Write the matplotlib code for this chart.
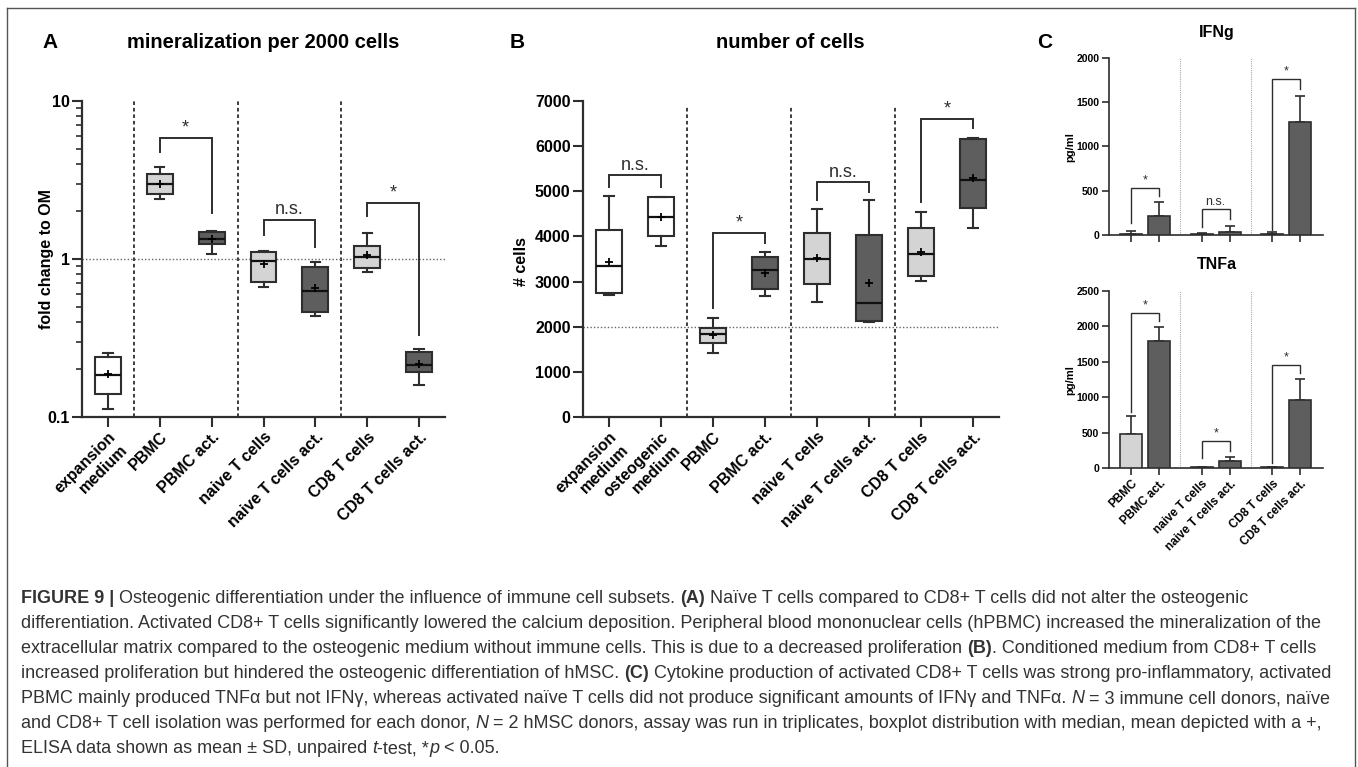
import matplotlib.pyplot as plt
import numpy as np
from matplotlib.ticker import LogLocator, NullFormatter
from matplotlib.lines import Line2D

W, H = 1358, 767

plt.rcParams['font.family'] = ['Liberation Sans', 'DejaVu Sans']
plt.rcParams['font.weight'] = 'bold'
plt.rcParams['axes.edgecolor'] = '#2e2e2e'

WHITE, LIGHT, DARK = 'white', '#d4d4d4', '#5e5e5e'
INK = '#2e2e2e'

# ---- A: mineralization per 2000 cells (fold change to OM)
a_labels = ['expansion\nmedium', 'PBMC', 'PBMC act.', 'naive T cells',
            'naive T cells act.', 'CD8 T cells', 'CD8 T cells act.']
a_whislo = [0.112, 2.40, 1.08, 0.665, 0.436, 0.83, 0.16]
a_q1 = [0.14, 2.58, 1.24, 0.72, 0.46, 0.88, 0.193]
a_med = [0.184, 2.98, 1.34, 0.97, 0.63, 1.03, 0.213]
a_q3 = [0.24, 3.45, 1.48, 1.11, 0.89, 1.21, 0.258]
a_whishi = [0.254, 3.82, 1.50, 1.12, 0.96, 1.46, 0.27]
a_mean = [0.187, 3.0, 1.33, 0.93, 0.66, 1.06, 0.216]
a_fill = [WHITE, LIGHT, DARK, LIGHT, DARK, LIGHT, DARK]
# (left, right, bar height, left leg end, right leg end, label)
a_brackets = [(1, 2, 5.83, 4.75, 1.95, '*'),
              (3, 4, 1.77, 1.42, 1.19, 'n.s.'),
              (5, 6, 2.26, 1.87, 0.33, '*')]

# ---- B: number of cells
b_labels = ['expansion\nmedium', 'osteogenic\nmedium', 'PBMC', 'PBMC act.',
            'naive T cells', 'naive T cells act.', 'CD8 T cells', 'CD8 T cells act.']
b_whislo = [2700, 3780, 1420, 2680, 2550, 2100, 3010, 4190]
b_q1 = [2740, 4010, 1640, 2830, 2950, 2130, 3120, 4630]
b_med = [3350, 4430, 1840, 3250, 3510, 2520, 3610, 5250]
b_q3 = [4150, 4880, 1980, 3540, 4080, 4030, 4190, 6160]
b_whishi = [4900, 4880, 2190, 3650, 4600, 4800, 4540, 6180]
b_mean = [3430, 4440, 1810, 3200, 3520, 2970, 3660, 5300]
b_fill = [WHITE, WHITE, LIGHT, DARK, LIGHT, DARK, LIGHT, DARK]
b_brackets = [(0, 1, 5360, 5100, 5100, 'n.s.'),
              (2, 3, 4080, 2410, 3850, '*'),
              (4, 5, 5200, 4800, 4980, 'n.s.'),
              (6, 7, 6600, 4760, 6400, '*')]

# ---- C: ELISA (mean, SD)
c_labels = ['PBMC', 'PBMC act.', 'naive T cells', 'naive T cells act.',
            'CD8 T cells', 'CD8 T cells act.']
c_pos = [0, 1, 2.5, 3.5, 5, 6]
c_fill = [LIGHT, DARK, LIGHT, DARK, LIGHT, DARK]
ifn_mean = [15, 215, 10, 35, 15, 1275]
ifn_sd = [30, 160, 10, 65, 15, 295]
tnf_mean = [480, 1795, 15, 100, 15, 960]
tnf_sd = [255, 195, 5, 55, 5, 295]
ifn_brackets = [(0, 1, 530, 135, 440, '*'),
                (2, 3, 290, 90, 180, 'n.s.'),
                (4, 5, 1760, 55, 1650, '*')]
tnf_brackets = [(0, 1, 2190, 790, 2075, '*'),
                (2, 3, 380, 140, 240, '*'),
                (4, 5, 1455, 70, 1340, '*')]

caption = [
    [("FIGURE 9 |", 'bold', 'normal'),
     (" Osteogenic differentiation under the influence of immune cell subsets. ", 'normal', 'normal'),
     ("(A)", 'bold', 'normal'),
     (" Naïve T cells compared to CD8+ T cells did not alter the osteogenic", 'normal', 'normal')],
    [("differentiation. Activated CD8+ T cells significantly lowered the calcium deposition. "
      "Peripheral blood mononuclear cells (hPBMC) increased the mineralization of the", 'normal', 'normal')],
    [("extracellular matrix compared to the osteogenic medium without immune cells. "
      "This is due to a decreased proliferation ", 'normal', 'normal'),
     ("(B)", 'bold', 'normal'),
     (". Conditioned medium from CD8+ T cells", 'normal', 'normal')],
    [("increased proliferation but hindered the osteogenic differentiation of hMSC. ", 'normal', 'normal'),
     ("(C)", 'bold', 'normal'),
     (" Cytokine production of activated CD8+ T cells was strong pro-inflammatory, activated", 'normal', 'normal')],
    [("PBMC mainly produced TNFα but not IFNγ, whereas activated naïve T cells did not produce "
      "significant amounts of IFNγ and TNFα. ", 'normal', 'normal'),
     ("N", 'normal', 'italic'),
     (" = 3 immune cell donors, naïve", 'normal', 'normal')],
    [("and CD8+ T cell isolation was performed for each donor, ", 'normal', 'normal'),
     ("N", 'normal', 'italic'),
     (" = 2 hMSC donors, assay was run in triplicates, boxplot distribution with median, "
      "mean depicted with a +,", 'normal', 'normal')],
    [("ELISA data shown as mean ± SD, unpaired ", 'normal', 'normal'),
     ("t", 'normal', 'italic'),
     ("-test, *", 'normal', 'normal'),
     ("p", 'normal', 'italic'),
     (" < 0.05.", 'normal', 'normal')],
]

fig = plt.figure(figsize=(W / 100, H / 100), dpi=100)


def add_ax(left, top, right, bottom):
    return fig.add_axes([left / W, 1 - bottom / H, (right - left) / W, (bottom - top) / H])


def ftext(x, y, s, **kw):
    return fig.text(x / W, 1 - y / H, s, **kw)


def boxes(ax, whislo, q1, med, q3, whishi, mean, fills):
    stats = [dict(whislo=a, q1=b, med=c, q3=d, whishi=e, mean=f, fliers=[])
             for a, b, c, d, e, f in zip(whislo, q1, med, q3, whishi, mean)]
    bp = ax.bxp(stats, positions=np.arange(len(stats)), widths=0.5, capwidths=0.18,
                showmeans=True, patch_artist=True, manage_ticks=False,
                boxprops=dict(edgecolor=INK, linewidth=1.5, zorder=3),
                medianprops=dict(color='#111111', linewidth=1.6, zorder=4),
                whiskerprops=dict(color=INK, linewidth=1.5, zorder=3),
                capprops=dict(color=INK, linewidth=1.5, zorder=3),
                meanprops=dict(marker='+', markeredgecolor='black', markersize=6,
                               markeredgewidth=1.3, zorder=5))
    for p, c in zip(bp['boxes'], fills):
        p.set_facecolor(c)


def bracket(ax, pos, br, fs, lw, off):
    for i, j, ytop, yl, yr, lab in br:
        x1, x2 = pos[i], pos[j]
        ax.plot([x1, x1, x2, x2], [yl, ytop, ytop, yr], color=INK, lw=lw, zorder=4,
                solid_joinstyle='miter', clip_on=False)
        ax.annotate(lab, xy=((x1 + x2) / 2, ytop), xytext=(0, off), textcoords='offset points',
                    ha='center', va='bottom', fontsize=fs, fontweight='normal', color=INK)


def style(ax, lw, tl, tw, ls):
    for s in ['top', 'right']:
        ax.spines[s].set_visible(False)
    for s in ['left', 'bottom']:
        ax.spines[s].set_linewidth(lw)
    ax.tick_params(axis='both', which='major', direction='out', length=tl, width=tw,
                   labelsize=ls, color=INK, pad=2)


# ---------- panel A
axA = add_ax(82, 101, 445, 417)
axA.set_yscale('log')
axA.set_ylim(0.1, 10)
axA.set_xlim(-0.5, 6.5)
for x in [0.5, 2.5, 4.5]:
    axA.axvline(x, color=INK, lw=1.3, ls=(0, (2, 1.6)), zorder=1)
axA.axhline(1, color='#666666', lw=1.0, ls=(0, (1, 1.5)), zorder=1)
boxes(axA, a_whislo, a_q1, a_med, a_q3, a_whishi, a_mean, a_fill)
bracket(axA, list(range(7)), a_brackets, 13, 1.4, 1)
style(axA, 1.6, 7, 1.5, 11.5)
axA.set_yticks([0.1, 1, 10], labels=['0.1', '1', '10'])
axA.yaxis.set_minor_locator(LogLocator(base=10, subs=np.arange(2, 10)))
axA.yaxis.set_minor_formatter(NullFormatter())
axA.tick_params(axis='y', which='minor', length=4, width=1.2, color=INK)
axA.set_xticks(range(7))
axA.set_xticklabels(a_labels, rotation=45, ha='right', va='top', rotation_mode='anchor',
                    fontsize=11.5)

# ---------- panel B
axB = add_ax(583, 101, 999, 417)
axB.set_ylim(0, 7000)
axB.set_xlim(-0.5, 7.5)
for x in [1.5, 3.5, 5.5]:
    axB.axvline(x, ymax=0.98, color=INK, lw=1.3, ls=(0, (2, 1.6)), zorder=1)
axB.axhline(2000, color='#666666', lw=1.0, ls=(0, (1, 1.5)), zorder=1)
boxes(axB, b_whislo, b_q1, b_med, b_q3, b_whishi, b_mean, b_fill)
bracket(axB, list(range(8)), b_brackets, 13, 1.4, 1)
style(axB, 1.6, 7, 1.5, 11.5)
axB.set_yticks(range(0, 7001, 1000))
axB.set_xticks(range(8))
axB.set_xticklabels(b_labels, rotation=45, ha='right', va='top', rotation_mode='anchor',
                    fontsize=11.5)

# ---------- panel C
axI = add_ax(1109, 58, 1323, 235)
axT = add_ax(1109, 291, 1323, 468)
for ax, m, sd, br, top in [(axI, ifn_mean, ifn_sd, ifn_brackets, 2000),
                           (axT, tnf_mean, tnf_sd, tnf_brackets, 2500)]:
    ax.set_xlim(-0.78, 6.8)
    ax.set_ylim(0, top)
    for x in [1.75, 4.25]:
        ax.axvline(x, color='#aaaaaa', lw=0.8, ls=(0, (1, 1)), zorder=1)
    ax.bar(c_pos, m, width=0.78, color=c_fill, edgecolor=INK, linewidth=1.2, zorder=3)
    ax.errorbar(c_pos, m, yerr=[np.zeros(len(sd)), sd], fmt='none', ecolor=INK,
                elinewidth=1.2, capsize=3.6, capthick=1.2, zorder=2)
    bracket(ax, c_pos, br, 9, 1.0, 1)
    style(ax, 1.2, 5, 1.2, 7.5)
    ax.set_yticks(range(0, top + 1, 500))
    ax.set_xticks(c_pos)
axI.tick_params(labelbottom=False)
axT.set_xticklabels(c_labels, rotation=45, ha='right', va='top', rotation_mode='anchor',
                    fontsize=8.5)

# ---------- figure texts
ftext(50, 42, 'A', fontsize=15, ha='center', va='center')
ftext(517, 42, 'B', fontsize=15, ha='center', va='center')
ftext(1045, 42, 'C', fontsize=15, ha='center', va='center')
ftext(263, 42, 'mineralization per 2000 cells', fontsize=14.5, ha='center', va='center')
ftext(790, 42, 'number of cells', fontsize=14.5, ha='center', va='center')
ftext(1217, 33, 'IFNg', fontsize=11.5, ha='center', va='center')
ftext(1217, 265, 'TNFa', fontsize=11.5, ha='center', va='center')
ftext(47, 259, 'fold change to OM', fontsize=11.5, rotation=90, ha='center', va='center')
ftext(522, 262, '# cells', fontsize=11.5, rotation=90, ha='center', va='center')
ftext(1070, 147, 'pg/ml', fontsize=8, rotation=90, ha='center', va='center')
ftext(1070, 380, 'pg/ml', fontsize=8, rotation=90, ha='center', va='center')

# frame
for xs, ys in [([7, 7], [767, 8]), ([7, 1355], [8, 8]), ([1355, 1355], [8, 767])]:
    fig.add_artist(Line2D([x / W for x in xs], [1 - y / H for y in ys], color='#555555', lw=1.0))

# ---------- caption
cap_font = ['Liberation Sans Narrow', 'Liberation Sans', 'DejaVu Sans']
r = fig.canvas.get_renderer()


def twidth(s, size, weight, st):
    t = fig.text(0, 0, s, fontsize=size, fontweight=weight, fontstyle=st, family=cap_font)
    w = t.get_window_extent(r).width
    t.remove()
    return w


def cap_line(segs, y, size, draw):
    sp = twidth('n n', size, 'normal', 'normal') - twidth('nn', size, 'normal', 'normal')
    x = 21
    for txt, wt, st in segs:
        lead = len(txt) - len(txt.lstrip(' '))
        trail = len(txt) - len(txt.rstrip(' '))
        x += lead * sp
        body = txt.strip(' ')
        if draw:
            ftext(x, y, body, fontsize=size, fontweight=wt, fontstyle=st, family=cap_font,
                  color='#333333', ha='left', va='baseline')
        x += twidth(body, size, wt, st) + trail * sp
    return x


size = 10 * (1339 - 21) / (cap_line(caption[3], 0, 10, False) - 21)
for k, segs in enumerate(caption):
    cap_line(segs, 603 + 25 * k, size, True)

fig.savefig('out.png', dpi=100)
